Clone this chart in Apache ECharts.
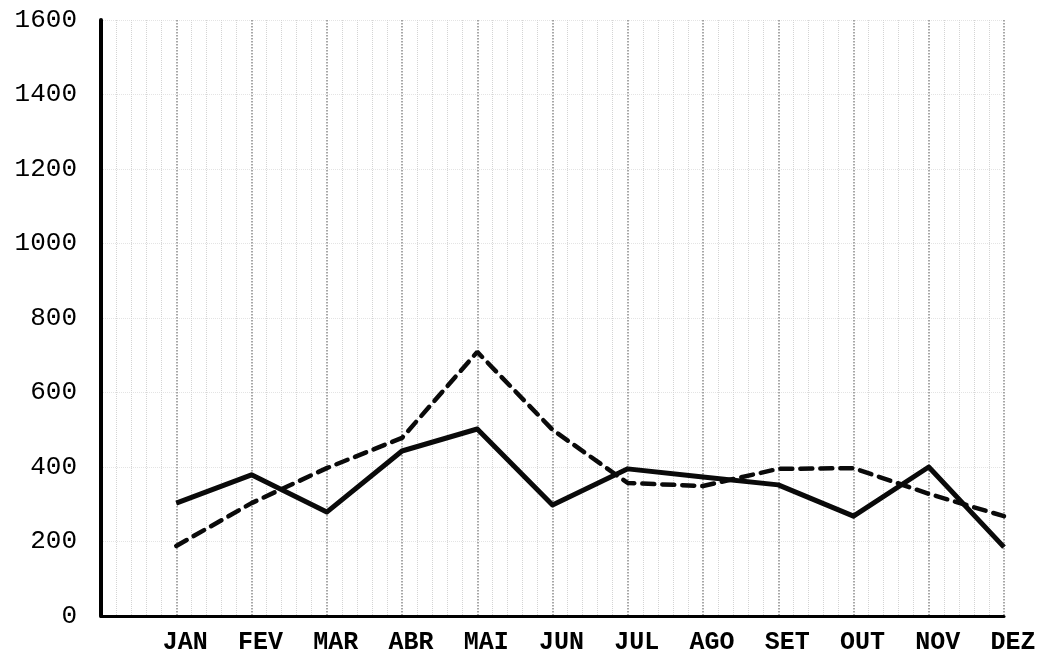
<!DOCTYPE html>
<html>
<head>
    <meta http-equiv="Content-type" content="text/html; charset=utf-8">
    <title>Mensal</title>
    <script src="https://cdn.jsdelivr.net/npm/echarts@6/dist/echarts.min.js"></script>
    <style>
        html, body { margin: 0; padding: 0; background: #fff; }
        #container { width: 1042px; height: 662px; }
    </style>
</head>
<body>
<div id="container"></div>
<script type="text/javascript">
// month labels along the bottom
var months = ['JAN', 'FEV', 'MAR', 'ABR', 'MAI', 'JUN', 'JUL', 'AGO', 'SET', 'OUT', 'NOV', 'DEZ'];
// solid line
var solidValues = [303, 379, 279, 443, 502, 298, 395, 373, 352, 268, 400, 185];
// dashed line
var dashedValues = [188, 303, 397, 478, 709, 500, 357, 349, 395, 397, 328, 268];

function pairs(vals) {
    var out = [];
    for (var i = 0; i < vals.length; i++) out.push([i, vals[i]]);
    return out;
}

var dom = document.getElementById("container");
var myChart = echarts.init(dom);
var option = {
    backgroundColor: '#fff',
    animation: false,
    grid: { left: 101, right: 38, top: 20, bottom: 46 },
    xAxis: {
        type: 'value',
        min: -1,
        max: 11,
        interval: 1,
        axisLine: { show: true, onZero: false, lineStyle: { color: '#000', width: 3 } },
        axisTick: { show: false },
        axisLabel: {
            color: '#000',
            fontFamily: 'Liberation Mono',
            fontWeight: 'bold',
            fontSize: 25,
            margin: 14,
            padding: [0, 0, 0, 18],
            formatter: function (v) {
                return (v >= 0 && v === Math.round(v)) ? months[v] : '';
            }
        },
        splitLine: { show: true, lineStyle: { color: '#8a8a8a', type: 'dotted', width: 1.5 } },
        minorTick: { show: false, splitNumber: 5 },
        minorSplitLine: { show: true, lineStyle: { color: '#d4d4d4', type: 'dotted', width: 1 } }
    },
    yAxis: {
        type: 'value',
        min: 0,
        max: 1600,
        interval: 200,
        axisLine: { show: true, onZero: false, lineStyle: { color: '#000', width: 4 } },
        axisTick: { show: false },
        axisLabel: {
            color: '#000',
            fontFamily: 'Liberation Mono',
            fontSize: 26,
            margin: 24,
            formatter: function (v) { return String(v); }
        },
        splitLine: { show: true, lineStyle: { color: '#e4e4e4', type: 'dotted', width: 1 } }
    },
    series: [
        {
            name: 'continua',
            type: 'line',
            data: pairs(solidValues),
            symbol: 'none',
            lineStyle: { color: '#0a0a0a', width: 5, join: 'round' }
        },
        {
            name: 'tracejada',
            type: 'line',
            data: pairs(dashedValues),
            symbol: 'none',
            lineStyle: { color: '#0a0a0a', width: 4.5, type: [12, 8], cap: 'round' }
        }
    ]
};
myChart.setOption(option, true);
</script>
</body>
</html>
